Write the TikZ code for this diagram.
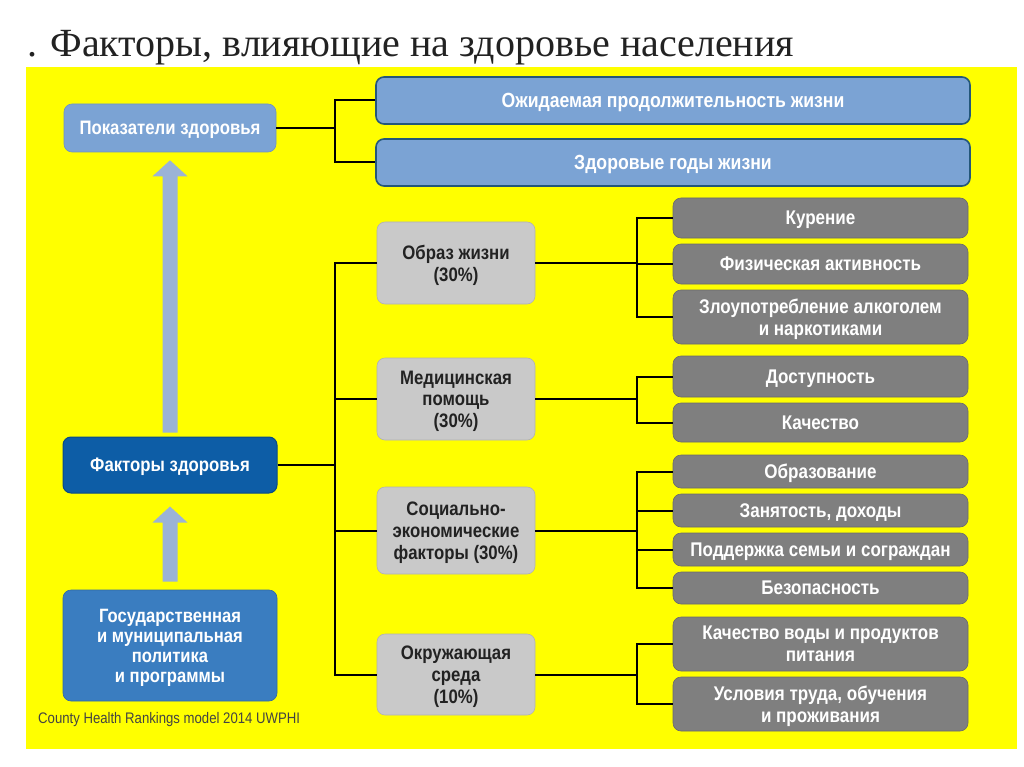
\documentclass[tikz,border=0pt]{standalone}
\usepackage{fontspec}
\setmainfont{Liberation Serif}
\newfontfamily\cond[FakeStretch=0.86]{Liberation Sans}
\usetikzlibrary{calc}
\definecolor{bgyellow}{HTML}{FFFF00}
\definecolor{lblue}{HTML}{7BA3D4}
\definecolor{lbluedark}{HTML}{24577A}
\definecolor{dblue}{HTML}{0D5DA6}
\definecolor{dbluedark}{HTML}{0A4A85}
\definecolor{mblue}{HTML}{3A7DC0}
\definecolor{lgray}{HTML}{C9C9C9}
\definecolor{lgraydark}{HTML}{B2B2B2}
\definecolor{dgray}{HTML}{7F7F7F}
\definecolor{dgraydark}{HTML}{6A6A6A}
\definecolor{arrowc}{HTML}{9BB3D6}
\definecolor{txtdark}{HTML}{222222}
\begin{document}
\begin{tikzpicture}[x=1pt,y=-1pt,
  basebox/.style={rectangle, rounded corners=8pt, inner sep=0pt, align=center, text depth=0pt,
    font=\cond\bfseries\fontsize{19.5}{21}\selectfont},
  pokbox/.style={basebox, fill=lblue, draw=lblue!90!black, line width=0.6pt, text=white},
  topbox/.style={basebox, fill=lblue, draw=lbluedark, line width=1.6pt, text=white,
    font=\cond\bfseries\fontsize{20.5}{22}\selectfont},
  fakbox/.style={basebox, fill=dblue, draw=dbluedark, line width=1pt, text=white},
  gosbox/.style={basebox, fill=mblue, draw=mblue!85!black, line width=0.6pt, text=white,
    font=\cond\bfseries\fontsize{19.3}{20}\selectfont},
  midbox/.style={basebox, fill=lgray, draw=lgraydark, line width=0.6pt, text=txtdark,
    font=\cond\bfseries\fontsize{19.5}{21.7}\selectfont},
  leafbox/.style={basebox, fill=dgray, draw=dgraydark, line width=0.6pt, text=white,
    font=\cond\bfseries\fontsize{19.8}{21.7}\selectfont},
  conn/.style={draw=black, line width=2pt},
  blockarrow/.style={fill=arrowc}
]
\useasboundingbox (0,0) rectangle (1024,767);
\fill[white] (0,0) rectangle (1024,767);
\fill[bgyellow] (26,67) rectangle (1017,749);

\node[anchor=base west, inner sep=0pt, text=txtdark, font=\fontsize{40}{44}\selectfont] (title) at (27,57) {. Факторы, влияющие на здоровье населения};

% left column
\node[pokbox, minimum width=212pt, minimum height=48pt] (pok) at (170,128) {Показатели здоровья};
\node[fakbox, minimum width=214pt, minimum height=56pt] (fak) at (170,465) {Факторы здоровья};
\node[gosbox, minimum width=214pt, minimum height=111pt] (gos) at (170,645.5) {Государственная\\и муниципальная\\политика\\и программы};
\node[anchor=west, inner sep=0pt, text=txtdark!85, font=\cond\fontsize{15.3}{17}\selectfont] (src) at (38,720) {County Health Rankings model 2014 UWPHI};

% top blue boxes
\node[topbox, minimum width=594pt, minimum height=47pt] (ozh) at (673,100.5) {Ожидаемая продолжительность жизни};
\node[topbox, minimum width=594pt, minimum height=47pt] (zdg) at (673,162.5) {Здоровые годы жизни};

% middle gray boxes
\node[midbox, minimum width=158pt, minimum height=82pt] (obr) at (456,263) {Образ жизни\\(30\%)};
\node[midbox, minimum width=158pt, minimum height=82pt] (med) at (456,399) {Медицинская\\помощь\\(30\%)};
\node[midbox, minimum width=158pt, minimum height=87pt] (soc) at (456,530.5) {Социально-\\экономические\\факторы (30\%)};
\node[midbox, minimum width=158pt, minimum height=81pt] (okr) at (456,674.5) {Окружающая\\среда\\(10\%)};

% leaf boxes
\node[leafbox, minimum width=295pt, minimum height=40pt] (kur) at (820.5,218) {Курение};
\node[leafbox, minimum width=295pt, minimum height=40pt] (fiz) at (820.5,264) {Физическая активность};
\node[leafbox, minimum width=295pt, minimum height=54pt] (zlo) at (820.5,317) {Злоупотребление алкоголем\\и наркотиками};
\node[leafbox, minimum width=295pt, minimum height=41pt] (dos) at (820.5,376.5) {Доступность};
\node[leafbox, minimum width=295pt, minimum height=39pt] (kach) at (820.5,422.5) {Качество};
\node[leafbox, minimum width=295pt, minimum height=33pt] (obz) at (820.5,471.5) {Образование};
\node[leafbox, minimum width=295pt, minimum height=33pt] (zan) at (820.5,510.5) {Занятость, доходы};
\node[leafbox, minimum width=295pt, minimum height=33pt] (pod) at (820.5,549.5) {Поддержка семьи и сограждан};
\node[leafbox, minimum width=295pt, minimum height=32pt] (bez) at (820.5,588) {Безопасность};
\node[leafbox, minimum width=295pt, minimum height=54pt] (voda) at (820.5,644) {Качество воды и продуктов\\питания};
\node[leafbox, minimum width=295pt, minimum height=54pt] (usl) at (820.5,704) {Условия труда, обучения\\и проживания};

% bus coordinates
\coordinate (b1) at (335,0);
\coordinate (b2) at (637,0);

% connectors: top
\draw[conn] (pok.east) -- (pok.east -| b1);
\draw[conn] (ozh.west) -| (b1 |- zdg.west) -- (zdg.west);

% connectors: factors
\draw[conn] (fak.east) -- (fak.east -| b1);
\draw[conn] (obr.west) -| (b1 |- okr.west) -- (okr.west);
\draw[conn] (med.west) -- (med.west -| b1);
\draw[conn] (soc.west) -- (soc.west -| b1);

% lifestyle
\draw[conn] (obr.east) -- (obr.east -| b2);
\draw[conn] (kur.west) -| (b2 |- zlo.west) -- (zlo.west);
\draw[conn] (fiz.west) -- (fiz.west -| b2);
% medical
\draw[conn] (med.east) -- (med.east -| b2);
\draw[conn] (dos.west) -| (b2 |- kach.west) -- (kach.west);
% socio-economic
\draw[conn] (soc.east) -- (soc.east -| b2);
\draw[conn] (obz.west) -| (b2 |- bez.west) -- (bez.west);
\draw[conn] (zan.west) -- (zan.west -| b2);
\draw[conn] (pod.west) -- (pod.west -| b2);
% environment
\draw[conn] (okr.east) -- (okr.east -| b2);
\draw[conn] (voda.west) -| (b2 |- usl.west) -- (usl.west);

% block arrows
\fill[blockarrow] ($(fak.north)+(-7.5,-4)$) -- ($(pok.south)+(-7.5,24)$) -- ($(pok.south)+(-17.5,24)$)
  -- ($(pok.south)+(0,8)$) -- ($(pok.south)+(17.5,24)$) -- ($(pok.south)+(7.5,24)$) -- ($(fak.north)+(7.5,-4)$) -- cycle;
\fill[blockarrow] ($(gos.north)+(-7.5,-8)$) -- ($(fak.south)+(-7.5,29)$) -- ($(fak.south)+(-17.5,29)$)
  -- ($(fak.south)+(0,13)$) -- ($(fak.south)+(17.5,29)$) -- ($(fak.south)+(7.5,29)$) -- ($(gos.north)+(7.5,-8)$) -- cycle;
\end{tikzpicture}
\end{document}
